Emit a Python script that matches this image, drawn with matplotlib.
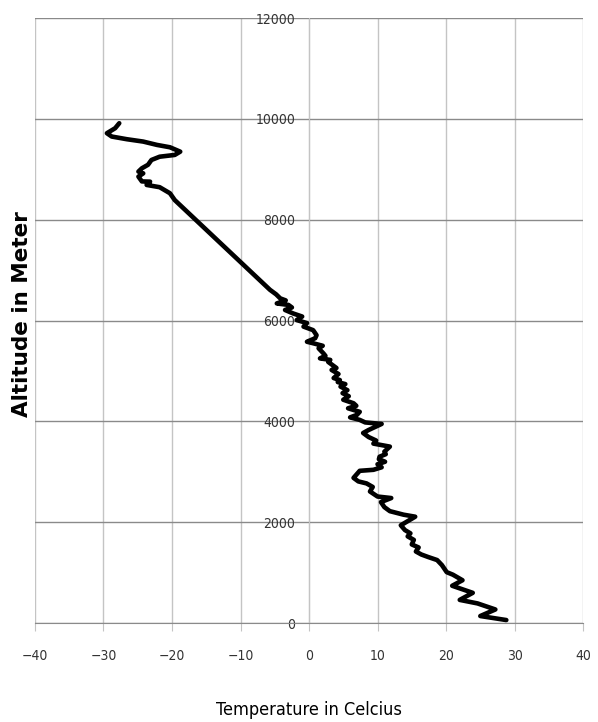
import matplotlib.pyplot as plt
from matplotlib import font_manager

# radiosonde profile: temperature (deg C) against altitude (m), surface upward
altitude = [60, 140, 270, 390, 460, 600, 740, 850, 960, 1010, 1150, 1250, 1310,
            1360, 1420, 1500, 1560, 1650, 1720, 1780, 1845, 1940, 2110, 2150,
            2220, 2300, 2400, 2480, 2510, 2610, 2700, 2770, 2810, 2880, 3020,
            3040, 3090, 3150, 3200, 3250, 3300, 3350, 3400, 3500, 3560, 3620,
            3690, 3770, 3830, 3950, 3980, 4030, 4080, 4130, 4190, 4260, 4310,
            4360, 4430, 4500, 4560, 4620, 4690, 4740, 4780, 4820, 4860, 4940,
            5020, 5060, 5100, 5180, 5220, 5250, 5300, 5350, 5450, 5500, 5550,
            5580, 5650, 5710, 5810, 5880, 5950, 6010, 6080, 6140, 6210, 6260,
            6310, 6340, 6400, 6440, 6520, 6610, 8390, 8525, 8645, 8690, 8755,
            8760, 8855, 8920, 8955, 9020, 9090, 9185, 9250, 9285, 9350, 9437,
            9484, 9550, 9597, 9650, 9716, 9815, 9914]
temperature = [28.8, 25.0, 27.2, 24.6, 22.0, 23.9, 20.9, 22.4, 21.0, 20.1, 19.4,
               18.7, 17.4, 16.4, 15.6, 16.0, 15.0, 15.3, 14.4, 14.8, 14.0, 13.4,
               15.5, 13.8, 11.8, 11.0, 10.5, 12.0, 10.0, 8.9, 9.3, 8.4, 7.2,
               6.5, 7.4, 9.4, 10.6, 10.0, 11.1, 10.2, 10.3, 11.2, 11.0, 11.8,
               9.4, 9.8, 8.7, 7.9, 8.7, 10.6, 8.2, 7.4, 6.0, 7.0, 7.4, 5.7, 6.9,
               6.5, 5.0, 5.8, 4.9, 5.6, 4.6, 5.3, 4.2, 4.5, 3.6, 4.3, 3.3, 4.0,
               3.6, 2.8, 3.1, 1.6, 2.4, 2.1, 1.4, 2.0, 0.6, -0.3, 0.9, 1.1, 0.6,
               -0.8, -0.3, -1.8, -1.0, -2.3, -3.5, -2.5, -3.0, -4.7, -3.4, -4.2,
               -4.8, -5.7, -19.6, -20.3, -21.8, -23.7, -23.2, -24.4, -24.9,
               -24.2, -24.9, -24.4, -23.5, -23.0, -21.8, -19.6, -18.8, -20.3,
               -22.2, -24.2, -26.6, -28.8, -29.5, -28.3, -27.7]

x_ticks = [-40, -30, -20, -10, 0, 10, 20, 30, 40]
y_ticks = [0, 2000, 4000, 6000, 8000, 10000, 12000]

# narrow face for the axis numbers and the x title
narrow = font_manager.FontProperties(family='DejaVu Sans', stretch='condensed',
                                     size=10)
narrow_title = narrow.copy()
narrow_title.set_size(13)

fig = plt.figure(figsize=(5.98, 7.22), dpi=100)
ax = fig.add_axes([0.0585, 0.137, 0.9165, 0.838])

ax.plot(temperature, altitude, color='black', linewidth=3.3,
        solid_joinstyle='round', solid_capstyle='round', zorder=3)

ax.set_xlim(-40, 40)
ax.set_ylim(0, 12000)
ax.set_xticks(x_ticks)
ax.set_yticks(y_ticks)

# vertical grid light, horizontal grid darker
ax.xaxis.grid(True, color='#c4c4c4', linewidth=1.0)
ax.yaxis.grid(True, color='#8a8a8a', linewidth=1.0)
ax.set_axisbelow(True)

# value axis crosses at zero
ax.spines['left'].set_position(('data', 0))
ax.spines['left'].set_color('#c4c4c4')
ax.spines['bottom'].set_color('#8a8a8a')
ax.spines['top'].set_visible(False)
ax.spines['right'].set_visible(False)

ax.tick_params(axis='x', direction='out', length=6, color='#c4c4c4',
               pad=13, labelcolor='#333333')
ax.tick_params(axis='y', length=0, pad=10, labelcolor='#333333')
for lbl in ax.get_xticklabels() + ax.get_yticklabels():
    lbl.set_fontproperties(narrow)

ax.set_xlabel('Temperature in Celcius', fontproperties=narrow_title,
              labelpad=27)
fig.text(0.037, 0.565, 'Altitude in Meter', rotation=90, fontsize=15.5,
         fontweight='bold', family='DejaVu Sans', ha='center', va='center')

fig.savefig('out.png', dpi=100)
